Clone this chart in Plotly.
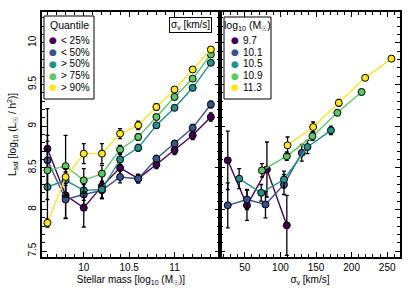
import plotly.graph_objects as go

# ---------------- data ----------------
mstar = [9.6, 9.8, 10.0, 10.2, 10.4, 10.6, 10.8, 11.0, 11.2, 11.4]
quantile_names = ["&lt; 25%", "&lt; 50%", "&gt; 50%", "&gt; 75%", "&gt; 90%"]
q25 = [8.73, 8.17, 8.02, 8.28, 8.50, 8.37, 8.54, 8.71, 8.89, 9.11]
q50lo = [8.59, 8.12, 8.18, 8.23, 8.39, 8.37, 8.61, 8.79, 8.98, 9.26]
q50hi = [8.27, 8.35, 8.23, 8.24, 8.60, 8.74, 9.01, 9.22, 9.46, 9.76]
q75 = [8.47, 8.52, 8.35, 8.43, 8.72, 8.87, 9.11, 9.35, 9.57, 9.86]
q90 = [7.84, 8.39, 8.67, 8.67, 8.91, 9.01, 9.23, 9.44, 9.68, 9.92]
e25 = [0.48, 0.28, 0.23, 0.15, 0.08, 0.05, 0.05, 0.05, 0.05, 0.05]
e50lo = [0.30, 0.22, 0.12, 0.10, 0.07, 0.05, 0.04, 0.04, 0.04, 0.04]
e50hi = [0.45, 0.18, 0.12, 0.10, 0.06, 0.04, 0.03, 0.03, 0.03, 0.03]
e75 = [0.35, 0.37, 0.14, 0.10, 0.05, 0.04, 0.03, 0.03, 0.03, 0.03]
e90 = [0.05, 0.10, 0.12, 0.12, 0.06, 0.05, 0.04, 0.03, 0.03, 0.03]

mass_names = ["9.7", "10.1", "10.5", "10.9", "11.3"]
s97 = [26, 53, 81, 109]
v97 = [8.59, 8.05, 8.48, 7.81]
e97 = [0.35, 0.18, 0.33, 0.36]
s101 = [26, 53, 79, 105, 130]
v101 = [8.05, 8.12, 8.06, 8.30, 8.68]
e101 = [0.27, 0.12, 0.16, 0.12, 0.10]
s105 = [42, 73, 105, 138, 171]
v105 = [8.37, 8.20, 8.36, 8.75, 8.95]
e105 = [0.12, 0.10, 0.10, 0.08, 0.05]
s109 = [74, 109, 145, 180, 214]
v109 = [8.47, 8.64, 8.88, 9.16, 9.41]
e109 = [0.08, 0.05, 0.05, 0.03, 0.03]
s113 = [110, 146, 182, 219, 256]
v113 = [8.77, 8.99, 9.28, 9.58, 9.81]
e113 = [0.10, 0.06, 0.04, 0.03, 0.03]

colors = ["#440154", "#3b528b", "#21918c", "#5ec962", "#fde725"]
FONT = "Liberation Sans, Arial, sans-serif"

# plot-area geometry in pixels (for placing legend boxes)
W, H = 411, 294
ML, MR, MT, MB = 42, 11, 12, 37
PW, PH = W - ML - MR, H - MT - MB


def px(x):
    return (x - ML) / PW


def py(y):
    return 1 - (y - MT) / PH


fig = go.Figure()

left_series = [(q25, e25), (q50lo, e50lo), (q50hi, e50hi), (q75, e75), (q90, e90)]
for (vals, errs), col in zip(left_series, colors):
    fig.add_trace(go.Scatter(
        x=mstar, y=vals, mode="lines+markers", showlegend=False,
        line=dict(color=col, width=1.4),
        marker=dict(color=col, size=7, line=dict(color="black", width=1)),
        error_y=dict(type="data", array=errs, color="black", thickness=1.3, width=2),
        xaxis="x", yaxis="y"))

right_series = [(s97, v97, e97), (s101, v101, e101), (s105, v105, e105),
                (s109, v109, e109), (s113, v113, e113)]
for (xs, vals, errs), col in zip(right_series, colors):
    fig.add_trace(go.Scatter(
        x=xs, y=vals, mode="lines+markers", showlegend=False,
        line=dict(color=col, width=1.4),
        marker=dict(color=col, size=7, line=dict(color="black", width=1)),
        error_y=dict(type="data", array=errs, color="black", thickness=1.3, width=2),
        xaxis="x2", yaxis="y2"))

axis_common = dict(showline=True, linecolor="black", linewidth=1.5, mirror="ticks",
                   ticks="inside", ticklen=5, tickwidth=1, tickcolor="black",
                   showgrid=False, zeroline=False, automargin=False,
                   tickfont=dict(family=FONT, size=10, color="black"))

# ---- hand-built legends (compact spacing like the reference) ----
shapes = []
annotations = []


def build_legend(x0, x1, y0, y1, title, names, dot_x, text_x, first_y, step):
    shapes.append(dict(type="rect", xref="paper", yref="paper",
                       x0=px(x0), x1=px(x1), y0=py(y1), y1=py(y0),
                       line=dict(color="black", width=1), fillcolor="white", layer="above"))
    annotations.append(dict(text=title, xref="paper", yref="paper",
                            x=px((x0 + x1) / 2), y=py(y0 + 9), xanchor="center",
                            yanchor="middle", showarrow=False,
                            font=dict(family=FONT, size=10.5, color="black")))
    for i, (name, col) in enumerate(zip(names, colors)):
        yy = py(first_y + i * step)
        annotations.append(dict(text="●", xref="paper", yref="paper", x=px(dot_x), y=yy,
                                xanchor="center", yanchor="middle", showarrow=False,
                                font=dict(family="DejaVu Sans", size=9, color=col)))
        annotations.append(dict(text=name, xref="paper", yref="paper", x=px(text_x), y=yy,
                                xanchor="left", yanchor="middle", showarrow=False,
                                font=dict(family=FONT, size=10, color="black")))


build_legend(44, 94, 16, 99, "Quantile", quantile_names, 53, 59, 40.5, 11.7)
build_legend(224, 271, 17, 99, "log<sub>10</sub> (M<sub>☉</sub>)", mass_names, 235, 241, 40.5, 11.7)

annotations.append(dict(text="σ<sub>v</sub> [km/s]", xref="paper", yref="paper",
                        x=px(212), y=py(17), xanchor="right", yanchor="top", showarrow=False,
                        bordercolor="black", borderwidth=1, borderpad=1, bgcolor="white",
                        font=dict(size=10, family=FONT, color="black")))

fig.update_layout(
    width=W, height=H,
    margin=dict(l=ML, r=MR, t=MT, b=MB),
    plot_bgcolor="white", paper_bgcolor="white",
    showlegend=False,
    font=dict(family=FONT, size=10, color="black"),
    xaxis=dict(domain=[0, 0.497], range=[9.54, 11.5], tickvals=[10, 10.5, 11],
               ticktext=["10", "10.5", "11"],
               minor=dict(ticks="inside", dtick=0.1, tick0=9.5, ticklen=3, tickcolor="black"),
               title=dict(text="Stellar mass [log<sub>10</sub> (M<sub>☉</sub>)]",
                          font=dict(size=10), standoff=4),
               anchor="y", **axis_common),
    xaxis2=dict(domain=[0.497, 1], range=[15, 268], tick0=0, dtick=50,
                minor=dict(ticks="inside", dtick=10, tick0=0, ticklen=3, tickcolor="black"),
                title=dict(text="σ<sub>v</sub> [km/s]", font=dict(size=10), standoff=4),
                anchor="y2", **axis_common),
    yaxis=dict(range=[7.43, 10.37], tick0=7.5, dtick=0.5, tickangle=-90,
               minor=dict(ticks="inside", dtick=0.1, tick0=7.5, ticklen=3, tickcolor="black"),
               title=dict(text="L<sub>sat</sub> [log<sub>10</sub> (L<sub>☉</sub> / h<sup>2</sup>)]",
                          font=dict(size=10), standoff=9),
               anchor="x", **axis_common),
    yaxis2=dict(range=[7.43, 10.37], tick0=7.5, dtick=0.5, matches="y",
                showticklabels=False,
                minor=dict(ticks="inside", dtick=0.1, tick0=7.5, ticklen=3, tickcolor="black"),
                anchor="x2", **axis_common),
    shapes=shapes,
    annotations=annotations,
)

fig.write_html("out.html", config={"displayModeBar": False},
               post_script="document.body.style.margin='0';document.body.style.padding='0';")
